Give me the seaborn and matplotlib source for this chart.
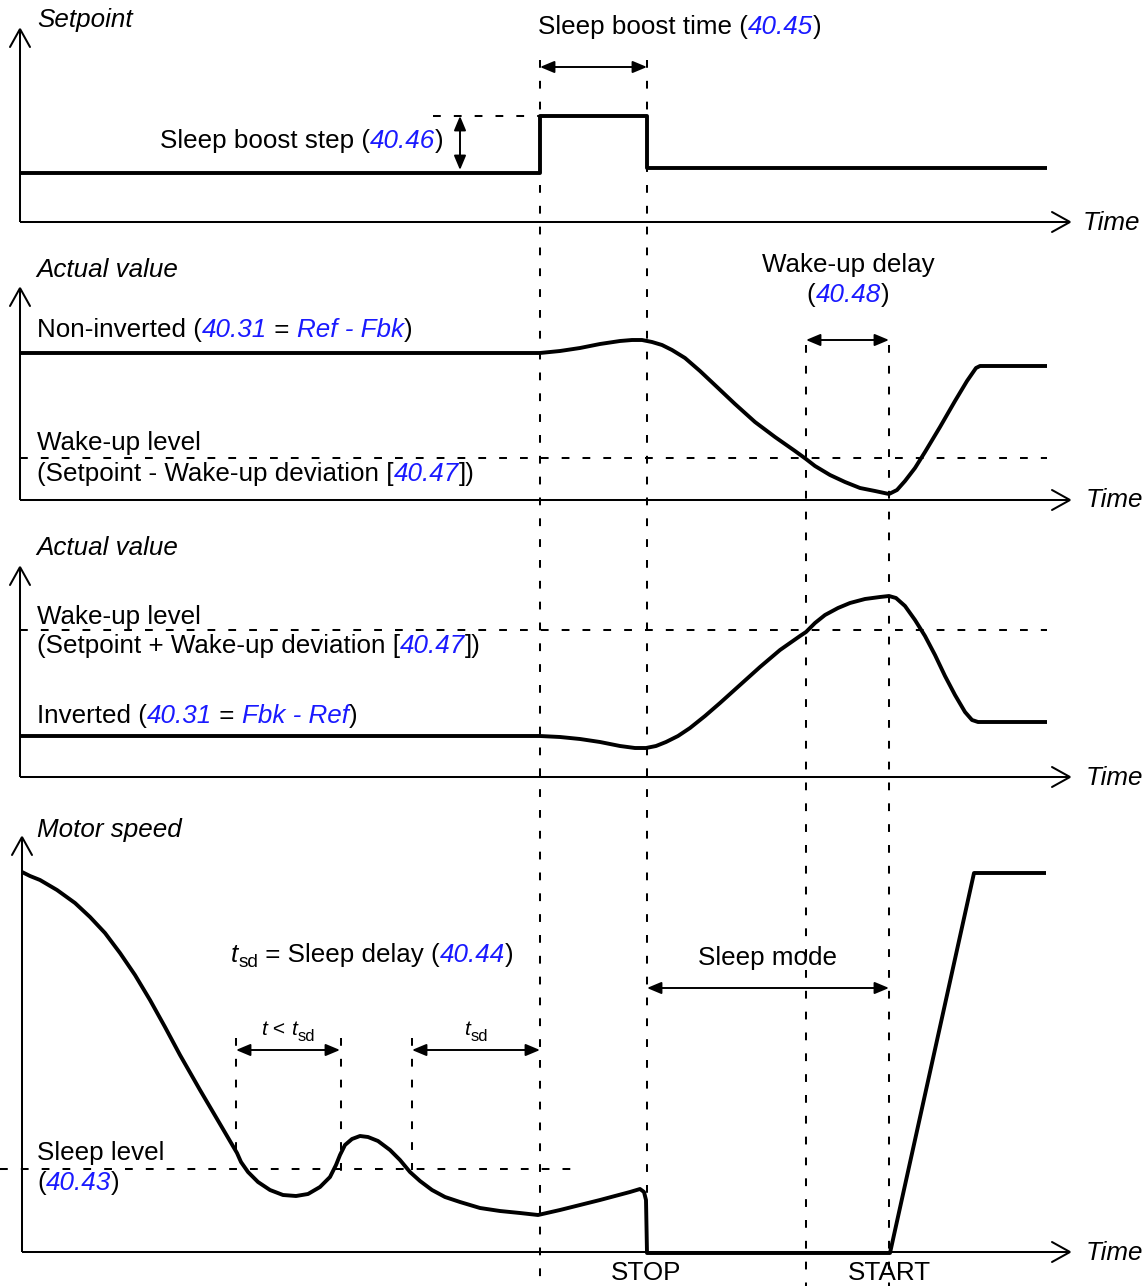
import matplotlib
matplotlib.use("Agg")
import matplotlib.pyplot as plt
import seaborn as sns
import numpy as np
import pandas as pd

# ---------------- data (pixel-like schematic units, y grows downward) -------------
# event times
t_boost, t_stop, t_wake, t_start, t_end = 540, 647, 806, 889, 1047

# panel geometry values (time axis level, y-axis top)
axis_levels = [222, 500, 777, 1252]
axis_tops = [29, 288, 567, 837]
axis_x0 = [20, 20, 20, 22]
axis_x1 = 1070

# Setpoint
setpoint_t = [20, 540, 540, 647, 647, 1047]
setpoint_v = [173, 173, 116, 116, 168, 168]

# Actual value, non-inverted
noninv_t = [20, 540, 560, 580, 600, 620, 632, 642, 652, 662, 672, 685, 700,
            717, 735, 755, 775, 795, 806, 815, 830, 845, 860, 875, 889, 897,
            905, 915, 925, 940, 955, 967, 976, 980, 1047]
noninv_v = [353, 353, 351, 348, 344, 341, 340, 340, 342, 345, 350, 358, 371,
            387, 404, 422, 437, 451, 459, 466, 475, 482, 488, 491, 494, 490,
            481, 468, 452, 427, 401, 381, 368, 366, 366]
wake_level_noninv = 458

# Actual value, inverted
inv_t = [20, 540, 560, 580, 600, 620, 635, 646, 656, 666, 678, 690, 705, 720,
         740, 760, 780, 800, 806, 815, 825, 838, 850, 865, 880, 889, 896, 905,
         915, 925, 935, 945, 955, 965, 972, 978, 1047]
inv_v = [736, 736, 737, 739, 742, 746, 748, 748, 746, 742, 736, 728, 716, 703,
         685, 667, 650, 636, 632, 623, 615, 608, 603, 599, 597, 596, 598, 606,
         620, 636, 655, 676, 695, 712, 720, 722, 722]
wake_level_inv = 630

# Motor speed
speed_t = [22, 30, 40, 57, 75, 90, 105, 120, 135, 150, 165, 180, 200, 220,
           237, 241, 248, 258, 270, 283, 296, 308, 320, 330, 336, 340, 345,
           352, 360, 368, 378, 390, 400, 410, 420, 432, 445, 460, 480, 500,
           520, 538, 560, 600, 630, 640, 644, 646, 647, 890, 974, 1046]
speed_v = [872, 876, 880, 890, 903, 917, 933, 953, 975, 1000, 1027, 1055,
           1090, 1124, 1153, 1162, 1172, 1182, 1190, 1195, 1196, 1194, 1187,
           1177, 1165, 1155, 1145, 1139, 1136, 1137, 1141, 1150, 1160, 1172,
           1181, 1190, 1197, 1202, 1208, 1211, 1213, 1215, 1210, 1200, 1192,
           1189, 1192, 1200, 1253, 1253, 873, 873]
sleep_level = 1169
tsd_short = (236, 341)
tsd_full = (412, 540)

BLACK = "#000000"
BLUE = "#1a1aff"

# ---------------- figure ----------------
sns.set_theme(style="white")
plt.rcParams["font.family"] = ["Liberation Sans", "DejaVu Sans"]
plt.rcParams["lines.scale_dashes"] = False

W, H = 1148, 1286
fig = plt.figure(figsize=(W / 100, H / 100), dpi=100)
ax = fig.add_axes([0, 0, 1, 1])
renderer = fig.canvas.get_renderer()

LW_CURVE = 2.8
LW_AXIS = 1.45
LW_DASH = 1.45
DASH = (5.6, 9.4)
FS = 18.7
FSUB = 13.7


def curve(t, v):
    sns.lineplot(x=t, y=v, sort=False, estimator=None, color=BLACK,
                 linewidth=LW_CURVE, ax=ax, solid_joinstyle="round",
                 solid_capstyle="butt", zorder=5)


def dashed(xs, ys):
    ax.plot(xs, ys, color=BLACK, linewidth=LW_DASH, linestyle=(0, DASH),
            zorder=2)


def darrow(p0, p1):
    ax.annotate("", xy=p1, xytext=p0,
                arrowprops=dict(arrowstyle="<|-|>,head_length=8.6,head_width=3.6",
                                mutation_scale=1, lw=1.4, color=BLACK,
                                shrinkA=0, shrinkB=0), zorder=6)


def adv(s, prop):
    w1, _, _ = renderer.get_text_width_height_descent("|" + s + "|", prop, ismath=False)
    w0, _, _ = renderer.get_text_width_height_descent("||", prop, ismath=False)
    return w1 - w0


def rich(x, y, parts, ha="left"):
    from matplotlib.font_manager import FontProperties
    items = []
    cx = x
    for p in parts:
        s, col, it = p[0], p[1], p[2]
        sz = p[3] if len(p) > 3 else FS
        dy = p[4] if len(p) > 4 else 0
        prop = FontProperties(family=["Liberation Sans", "DejaVu Sans"],
                              style="italic" if it else "normal", size=sz)
        t = ax.text(cx, y + dy, s, color=col, fontproperties=prop,
                    ha="left", va="baseline", zorder=7)
        items.append(t)
        cx += adv(s, prop)
    tot = cx - x
    shift = {"left": 0, "center": -tot / 2, "right": -tot}[ha]
    for t in items:
        px, py = t.get_position()
        t.set_position((px + shift, py))


# ---------------- axes of the four panels ----------------
for y0, top, x0 in zip(axis_levels, axis_tops, axis_x0):
    ax.plot([x0, x0], [y0, top], color=BLACK, lw=LW_AXIS, solid_capstyle="butt")
    ax.plot([x0 - 10, x0, x0 + 10], [top + 18, top, top + 18], color=BLACK,
            lw=LW_AXIS, solid_joinstyle="miter")
    ax.plot([x0, axis_x1], [y0, y0], color=BLACK, lw=LW_AXIS, solid_capstyle="butt")
    ax.plot([axis_x1 - 18, axis_x1, axis_x1 - 18], [y0 - 10, y0, y0 + 10],
            color=BLACK, lw=LW_AXIS, solid_joinstyle="miter")

# ---------------- vertical event lines ----------------
dashed([t_boost, t_boost], [60, H])
dashed([t_stop, t_stop], [60, 1253])
dashed([t_wake, t_wake], [345, H])
dashed([t_start, t_start], [345, H])
dashed([tsd_short[0]] * 2, [1038, 1155])
dashed([tsd_short[1]] * 2, [1038, 1172])
dashed([tsd_full[0]] * 2, [1038, 1170])

# ---------------- horizontal levels ----------------
dashed([433, t_boost], [116, 116])
dashed([20, t_end], [wake_level_noninv] * 2)
dashed([20, t_end], [wake_level_inv] * 2)
dashed([0, 572], [sleep_level] * 2)

# ---------------- curves ----------------
curve(setpoint_t, setpoint_v)
curve(noninv_t, noninv_v)
curve(inv_t, inv_v)
curve(speed_t, speed_v)

# ---------------- dimension arrows ----------------
darrow((460, 116), (460, 170))
darrow((t_boost, 67), (t_stop, 67))
darrow((t_wake, 340), (t_start, 340))
darrow((tsd_short[0], 1050), (tsd_short[1] - 1, 1050))
darrow((tsd_full[0], 1050), (tsd_full[1], 1050))
darrow((t_stop, 988), (t_start, 988))

# ---------------- texts ----------------
rich(37, 27, [("Setpoint", BLACK, True)])
rich(538, 34, [("Sleep boost time (", BLACK, False), ("40.45", BLUE, True), (")", BLACK, False)])
rich(160, 148, [("Sleep boost step (", BLACK, False), ("40.46", BLUE, True), (")", BLACK, False)])
rich(1083, 230, [("Time", BLACK, True)])

rich(36, 277, [("Actual value", BLACK, True)])
rich(37, 337, [("Non-inverted (", BLACK, False), ("40.31", BLUE, True), (" = ", BLACK, False),
               ("Ref - Fbk", BLUE, True), (")", BLACK, False)])
rich(37, 450, [("Wake-up level", BLACK, False)])
rich(37, 481, [("(Setpoint - Wake-up deviation [", BLACK, False), ("40.47", BLUE, True),
               ("])", BLACK, False)])
rich(848, 272, [("Wake-up delay", BLACK, False)], ha="center")
rich(848, 302, [("(", BLACK, False), ("40.48", BLUE, True), (")", BLACK, False)], ha="center")
rich(1086, 507, [("Time", BLACK, True)])

rich(36, 555, [("Actual value", BLACK, True)])
rich(37, 624, [("Wake-up level", BLACK, False)])
rich(37, 653, [("(Setpoint + Wake-up deviation [", BLACK, False), ("40.47", BLUE, True),
               ("])", BLACK, False)])
rich(37, 723, [("Inverted (", BLACK, False), ("40.31", BLUE, True), (" = ", BLACK, False),
               ("Fbk - Ref", BLUE, True), (")", BLACK, False)])
rich(1086, 785, [("Time", BLACK, True)])

rich(37, 837, [("Motor speed", BLACK, True)])
rich(231, 962, [("t", BLACK, True), ("sd", BLACK, False, FSUB, 5),
                (" = Sleep delay (", BLACK, False), ("40.44", BLUE, True), (")", BLACK, False)])
rich(288, 1035, [("t", BLACK, True, 15.1), (" < ", BLACK, False, 15.1), ("t", BLACK, True, 15.1),
                 ("sd", BLACK, False, 11.9, 6)], ha="center")
rich(476, 1035, [("t", BLACK, True, 15.1), ("sd", BLACK, False, 11.9, 6)], ha="center")
rich(37, 1160, [("Sleep level", BLACK, False)])
rich(37, 1190, [("(", BLACK, False), ("40.43", BLUE, True), (")", BLACK, False)])
rich(768, 965, [("Sleep mode", BLACK, False)], ha="center")
rich(646, 1280, [("STOP", BLACK, False)], ha="center")
rich(889, 1280, [("START", BLACK, False)], ha="center")
rich(1086, 1260, [("Time", BLACK, True)])

ax.set_xlim(0, W)
ax.set_ylim(H, 0)
ax.axis("off")

fig.savefig("out.png", dpi=100)
